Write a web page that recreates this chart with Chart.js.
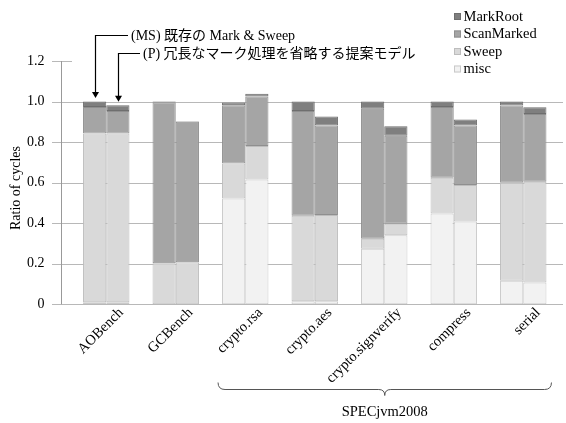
<!DOCTYPE html>
<html>
<head>
<meta charset="utf-8">
<script src="https://cdn.jsdelivr.net/npm/chart.js@4"></script>
<style>
    html, body { margin: 0; padding: 0; background: #fff; }
</style>
</head>
<body>
<canvas id="gcChart" width="566" height="423"></canvas>
<script>
// Benchmarks on the x axis
const benchmarks = ['AOBench', 'GCBench', 'crypto.rsa', 'crypto.aes', 'crypto.signverify', 'compress', 'serial'];

// (MS) existing Mark & Sweep - ratio of cycles per phase
const msMisc       = [0.010, 0.000, 0.522, 0.015, 0.274, 0.448, 0.116];
const msSweep      = [0.832, 0.202, 0.173, 0.422, 0.049, 0.176, 0.483];
const msScanMarked = [0.131, 0.795, 0.287, 0.517, 0.641, 0.349, 0.381];
const msMarkRoot   = [0.027, 0.003, 0.013, 0.046, 0.036, 0.027, 0.020];

// (P) proposed model
const pMisc        = [0.010, 0.000, 0.616, 0.015, 0.340, 0.409, 0.108];
const pSweep       = [0.832, 0.207, 0.165, 0.426, 0.057, 0.179, 0.496];
const pScanMarked  = [0.112, 0.693, 0.244, 0.441, 0.434, 0.294, 0.335];
const pMarkRoot    = [0.028, 0.003, 0.014, 0.044, 0.047, 0.029, 0.033];

const yTicks = [0, 0.2, 0.4, 0.6, 0.8, 1.0, 1.2];

const seriesNames = ['misc', 'Sweep', 'ScanMarked', 'MarkRoot'];
const fillColors = { misc: '#f2f2f2', Sweep: '#d9d9d9', ScanMarked: '#a5a5a5', MarkRoot: '#7f7f7f' };
const edgeColors = { misc: '#c9c9c9', Sweep: '#bdbdbd', ScanMarked: '#8f8f8f', MarkRoot: '#6e6e6e' };

const SERIF = '"Liberation Serif", "Times New Roman", serif';
const MIXED = '"Liberation Serif", "Noto Sans CJK JP", serif';

function makeSet(name, values, stack) {
    return {
        label: name,
        data: values,
        stack: stack,
        backgroundColor: fillColors[name],
        borderColor: edgeColors[name],
        borderWidth: 1,
        borderSkipped: false
    };
}

const datasets = [
    makeSet('misc', msMisc, 'MS'),
    makeSet('Sweep', msSweep, 'MS'),
    makeSet('ScanMarked', msScanMarked, 'MS'),
    makeSet('MarkRoot', msMarkRoot, 'MS'),
    makeSet('misc', pMisc, 'P'),
    makeSet('Sweep', pSweep, 'P'),
    makeSet('ScanMarked', pScanMarked, 'P'),
    makeSet('MarkRoot', pMarkRoot, 'P')
];

// gridlines + axis line, drawn behind the bars
const gridPlugin = {
    id: 'gridPlugin',
    beforeDatasetsDraw(chart) {
        const ctx = chart.ctx;
        const y = chart.scales.y;
        const area = chart.chartArea;
        const axisX = area.left - 10.5;
        ctx.save();
        ctx.lineWidth = 1;
        yTicks.forEach(v => {
            const py = Math.round(y.getPixelForValue(v)) + 0.5;
            ctx.strokeStyle = '#b8b8b8';
            ctx.beginPath();
            ctx.moveTo(axisX - 9, py);
            ctx.lineTo(v === 1.2 ? axisX + 11 : area.right + 5, py);
            ctx.stroke();
        });
        ctx.strokeStyle = '#999';
        ctx.beginPath();
        ctx.moveTo(Math.round(axisX) + 0.5, y.getPixelForValue(1.2));
        ctx.lineTo(Math.round(axisX) + 0.5, y.getPixelForValue(0));
        ctx.stroke();
        ctx.restore();
    }
};

// legend, arrows, notes, brace, y title
const notesPlugin = {
    id: 'notesPlugin',
    afterDraw(chart) {
        const ctx = chart.ctx;
        ctx.save();

        // y axis title
        ctx.save();
        ctx.translate(16, 188);
        ctx.rotate(-Math.PI / 2);
        ctx.font = '14px ' + SERIF;
        ctx.fillStyle = '#000';
        ctx.textAlign = 'center';
        ctx.textBaseline = 'middle';
        ctx.fillText('Ratio of cycles', 0, 0);
        ctx.restore();

        // legend (top to bottom: MarkRoot, ScanMarked, Sweep, misc)
        const legendOrder = seriesNames.slice().reverse();
        ctx.font = '14.5px ' + SERIF;
        ctx.textAlign = 'left';
        ctx.textBaseline = 'middle';
        legendOrder.forEach((name, i) => {
            const cy = 16.5 + i * 17.5;
            ctx.fillStyle = fillColors[name];
            ctx.fillRect(454, cy - 3.5, 7, 7);
            ctx.strokeStyle = edgeColors[name];
            ctx.strokeRect(454.5, cy - 3, 6, 6);
            ctx.fillStyle = '#000';
            ctx.fillText(name, 463.5, cy + 0.5);
        });

        // arrows pointing at the AOBench bars
        const msBar = chart.getDatasetMeta(3).data[0];
        const pBar = chart.getDatasetMeta(7).data[0];
        const arrows = [
            { bar: msBar, lineY: 35.5, endX: 128, text: '(MS) 既存の Mark & Sweep' },
            { bar: pBar, lineY: 53.5, endX: 140, text: '(P) 冗長なマーク処理を省略する提案モデル' }
        ];
        ctx.strokeStyle = '#000';
        ctx.fillStyle = '#000';
        ctx.lineWidth = 1.2;
        arrows.forEach(a => {
            const x = Math.round(a.bar.x) + 0.5;
            const tipY = a.bar.y - 3.5;
            ctx.beginPath();
            ctx.moveTo(a.endX, a.lineY);
            ctx.lineTo(x, a.lineY);
            ctx.lineTo(x, tipY - 5);
            ctx.stroke();
            ctx.beginPath();
            ctx.moveTo(x - 3.5, tipY - 6);
            ctx.lineTo(x + 3.5, tipY - 6);
            ctx.lineTo(x, tipY);
            ctx.closePath();
            ctx.fill();
            ctx.font = '14px ' + MIXED;
            ctx.textAlign = 'left';
            ctx.textBaseline = 'middle';
            ctx.fillText(a.text, a.endX + 3, a.lineY + 0.5);
        });

        // brace under the SPECjvm2008 benchmarks
        const first = chart.getDatasetMeta(0).data[2];
        const last = chart.getDatasetMeta(7).data[6];
        const bx1 = first.x - first.width / 2 - 4;
        const bx2 = last.x + last.width / 2 + 5;
        const mid = (bx1 + bx2) / 2;
        const by = 389.5;
        ctx.strokeStyle = '#555';
        ctx.lineWidth = 1;
        ctx.beginPath();
        ctx.moveTo(bx1, by - 7);
        ctx.quadraticCurveTo(bx1, by, bx1 + 7, by);
        ctx.lineTo(mid - 6, by);
        ctx.quadraticCurveTo(mid, by, mid, by + 6);
        ctx.quadraticCurveTo(mid, by, mid + 6, by);
        ctx.lineTo(bx2 - 7, by);
        ctx.quadraticCurveTo(bx2, by, bx2, by - 7);
        ctx.stroke();

        ctx.fillStyle = '#000';
        ctx.font = '14.5px ' + SERIF;
        ctx.textAlign = 'center';
        ctx.textBaseline = 'alphabetic';
        ctx.fillText('SPECjvm2008', mid, 416);

        ctx.restore();
    }
};

const chart = new Chart(document.getElementById('gcChart'), {
    type: 'bar',
    data: { labels: benchmarks, datasets: datasets },
    options: {
        responsive: false,
        animation: false,
        devicePixelRatio: 1,
        layout: { padding: { top: 61, right: 8, bottom: 0, left: 0 } },
        datasets: {
            bar: { barPercentage: 1.0, categoryPercentage: 0.668 }
        },
        plugins: {
            legend: { display: false },
            tooltip: { enabled: false }
        },
        scales: {
            x: {
                stacked: true,
                grid: { display: false, drawTicks: false },
                border: { display: false },
                ticks: {
                    autoSkip: false,
                    minRotation: 45,
                    maxRotation: 45,
                    labelOffset: 15,
                    padding: 0,
                    color: '#000',
                    font: { family: SERIF, size: 14.5 }
                },
                afterFit(scale) { scale.height = 423 - 304.3; }
            },
            y: {
                stacked: true,
                min: 0,
                max: 1.2,
                afterBuildTicks(scale) { scale.ticks = yTicks.map(v => ({ value: v })); },
                grid: { display: false, drawTicks: false },
                border: { display: false },
                ticks: {
                    padding: 27,
                    color: '#000',
                    font: { family: SERIF, size: 14 },
                    callback: v => (v === 0 ? '0' : Number(v).toFixed(1))
                },
                afterFit(scale) { scale.width = 71.5; }
            }
        }
    },
    plugins: [gridPlugin, notesPlugin]
});
</script>
</body>
</html>
